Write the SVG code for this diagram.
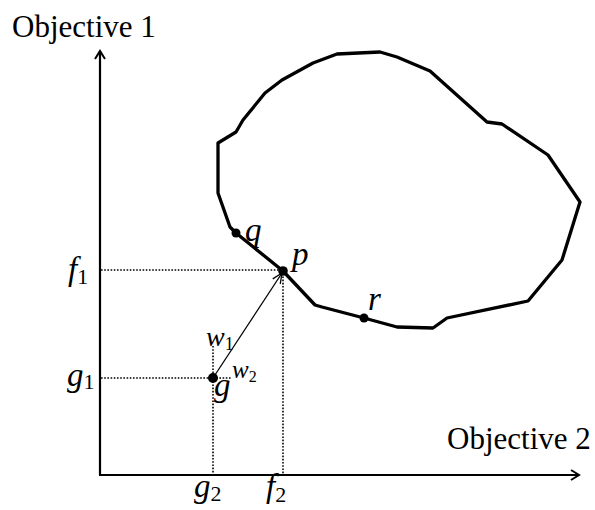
<svg xmlns="http://www.w3.org/2000/svg" width="595" height="510" viewBox="0 0 595 510">
<style>
text{font-family:"Liberation Serif","Times New Roman",serif;fill:#000}
.it{font-style:italic}
.lab{font-size:33px}
.sub{font-style:normal;font-size:22px}
.dot{stroke:#000;stroke-width:1.6;stroke-dasharray:1.6 1.6;fill:none}
.ax{stroke:#000;stroke-width:2.2;fill:none}
</style>
<defs>
<marker id="chev" viewBox="0 0 12 12" refX="10" refY="6" markerWidth="12" markerHeight="12" markerUnits="userSpaceOnUse" orient="auto">
<path d="M2,1 L10,6 L2,11" fill="none" stroke="#000" stroke-width="2"/>
</marker>
<marker id="arr" viewBox="0 0 12 12" refX="11" refY="6" markerWidth="12" markerHeight="12" markerUnits="userSpaceOnUse" orient="auto">
<path d="M1,1.5 L11,6 L1,10.5" fill="none" stroke="#000" stroke-width="1.3"/>
</marker>
</defs>
<g id="axes">
<path class="ax" d="M100,475 L100,51" marker-end="url(#chev)"/>
<path class="ax" d="M99,475 L579,475" marker-end="url(#chev)"/>
<text x="12" y="37" font-size="31">Objective 1</text>
<text x="447" y="449" font-size="31">Objective 2</text>
</g>
<g id="region">
<path d="M218,143 L236,132 L243,120 L265,93 L282,80 L313,63 L337,54 L380,52 L397,57 L430,71 L487,122 L502,124 L548,155 L580,202 L562,260 L528,301 L447,318 L433,328 L397,327 L364,318 L322,307 L315,305 L283,271 L236,233 L230,227 L218,193 Z" fill="none" stroke="#000" stroke-width="3.3" stroke-linejoin="round"/>
</g>
<g id="connectors">
<path class="dot" d="M101,270 L283,270 M283,270 L283,474 M101,378 L213,378 M213,346 L213,474 M213,378 L232,378"/>
<path d="M213,378 L282,273" stroke="#000" stroke-width="1.3" fill="none" marker-end="url(#arr)"/>
</g>
<g id="node-p"><circle cx="283" cy="271" r="4.8"/><text class="it lab" x="292" y="265">p</text></g>
<g id="node-q"><circle cx="236" cy="233" r="4.5"/><text class="it lab" x="245" y="241">q</text></g>
<g id="node-r"><circle cx="364" cy="318" r="4.5"/><text class="it lab" x="368" y="310">r</text></g>
<g id="node-g"><circle cx="213" cy="378" r="5"/><text class="it lab" x="214" y="396">g</text></g>
<g id="weights">
<text class="it" x="206" y="346" font-size="28">w<tspan font-style="normal" font-size="18" dy="4">1</tspan></text>
<text class="it" x="232" y="378" font-size="25">w<tspan font-style="normal" font-size="16" dy="4">2</tspan></text>
</g>
<g id="ticks">
<text class="it lab" x="68" y="280">f<tspan class="sub" dy="4">1</tspan></text>
<text class="it lab" x="67" y="386">g<tspan class="sub" dy="3">1</tspan></text>
<text class="it lab" x="194" y="497">g<tspan class="sub" dy="4">2</tspan></text>
<text class="it lab" x="266" y="497">f<tspan class="sub" dy="5">2</tspan></text>
</g>
</svg>
